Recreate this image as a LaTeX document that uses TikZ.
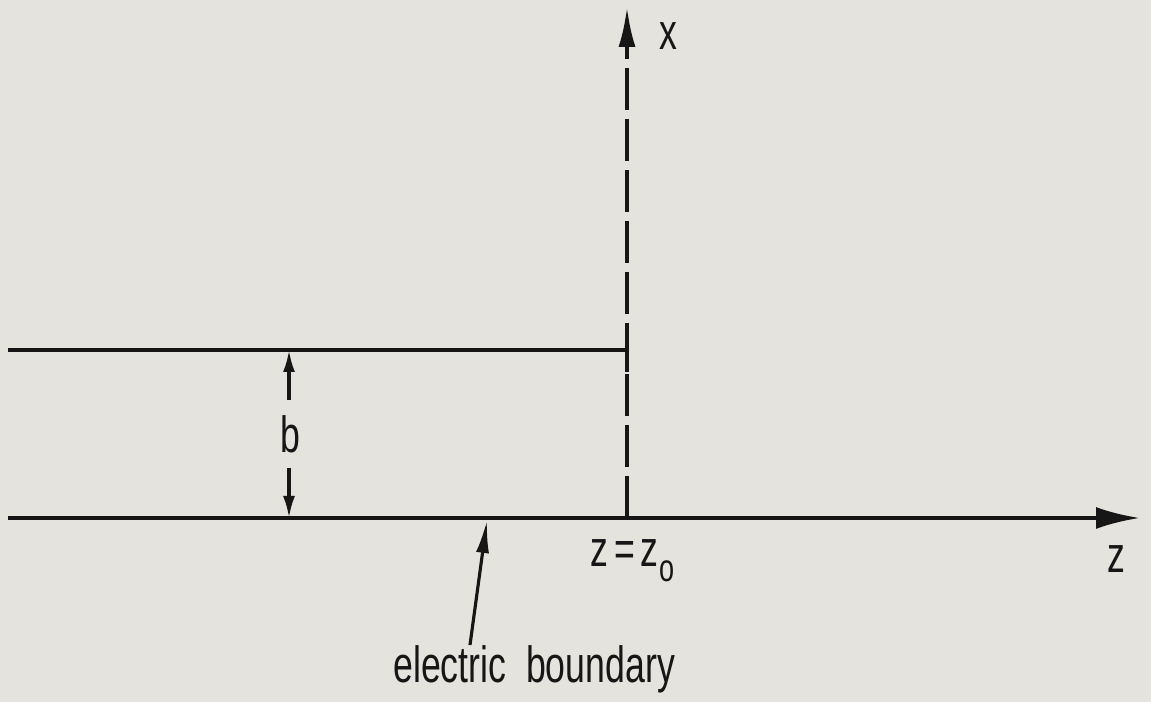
\documentclass[tikz,border=0pt]{standalone}
\usepackage{fontspec}
\setmainfont{Liberation Sans}
\usetikzlibrary{arrows.meta}
\definecolor{paper}{RGB}{229,227,221}
\definecolor{ink}{RGB}{22,22,22}
\newcommand{\narrow}[1]{\scalebox{0.7}[1]{#1}}
\tikzset{
  lbl/.style={font=\fontsize{29}{29}\selectfont, text=ink, inner sep=0pt},
  wire/.style={ink, line width=2.3pt},
  axisz/.style={wire, -{Latex[length=8.8mm,width=4.4mm]}},
  axisx/.style={wire, dash pattern=on 0.84cm off 0.18cm, -{Latex[length=8mm,width=3.4mm]}},
  dimarrow/.style={ink, line width=1.8pt, -{Latex[length=4.4mm,width=2.4mm]}},
  pointer/.style={ink, line width=1.8pt, -{Latex[length=6.6mm,width=2.6mm]}}
}
\begin{document}
\begin{tikzpicture}
\fill[paper] (0,0) rectangle (23.02,14.04);
\useasboundingbox (0,0) rectangle (23.02,14.04);
% axes
\coordinate (zL) at (0.16,3.68);
\coordinate (zR) at (22.8,3.68);
\coordinate (orig) at (12.54,3.68);
\coordinate (xT) at (12.54,13.9);
\draw[axisz] (zL) -- (zR);
\draw[axisx] (orig) -- (xT);
% upper boundary
\coordinate (uL) at (0.16,7.04);
\coordinate (uR) at (12.54,7.04);
\draw[wire] (uL) -- (uR);
\draw[wire] (12.54,6.6) -- (12.54,7.4);
% spacing b
\coordinate (bT) at (5.78,7.04);
\coordinate (bTe) at (5.78,6.04);
\coordinate (bB) at (5.78,3.68);
\coordinate (bBe) at (5.78,4.68);
\draw[dimarrow] (bTe) -- (bT);
\draw[dimarrow] (bBe) -- (bB);
\node[lbl, anchor=base] (blabel) at (5.8,4.98) {\narrow{b}};
% labels
\node[lbl, anchor=base] (xlabel) at (13.36,13.04) {\narrow{x}};
\node[lbl, anchor=base] (zlabel) at (22.33,2.58) {\narrow{z}};
\node[lbl, anchor=base west] (zzero) at (11.8,2.7)
  {\narrow{z\,=\,z\kern1pt\raisebox{-0.3cm}{\fontsize{22}{22}\selectfont o}}};
\node[lbl, anchor=base west] (elec) at (7.86,0.38) {\narrow{electric\ \ boundary}};
\coordinate (eS) at (9.4,1.14);
\coordinate (eE) at (9.74,3.64);
\draw[pointer] (eS) -- (eE);
\end{tikzpicture}
\end{document}
